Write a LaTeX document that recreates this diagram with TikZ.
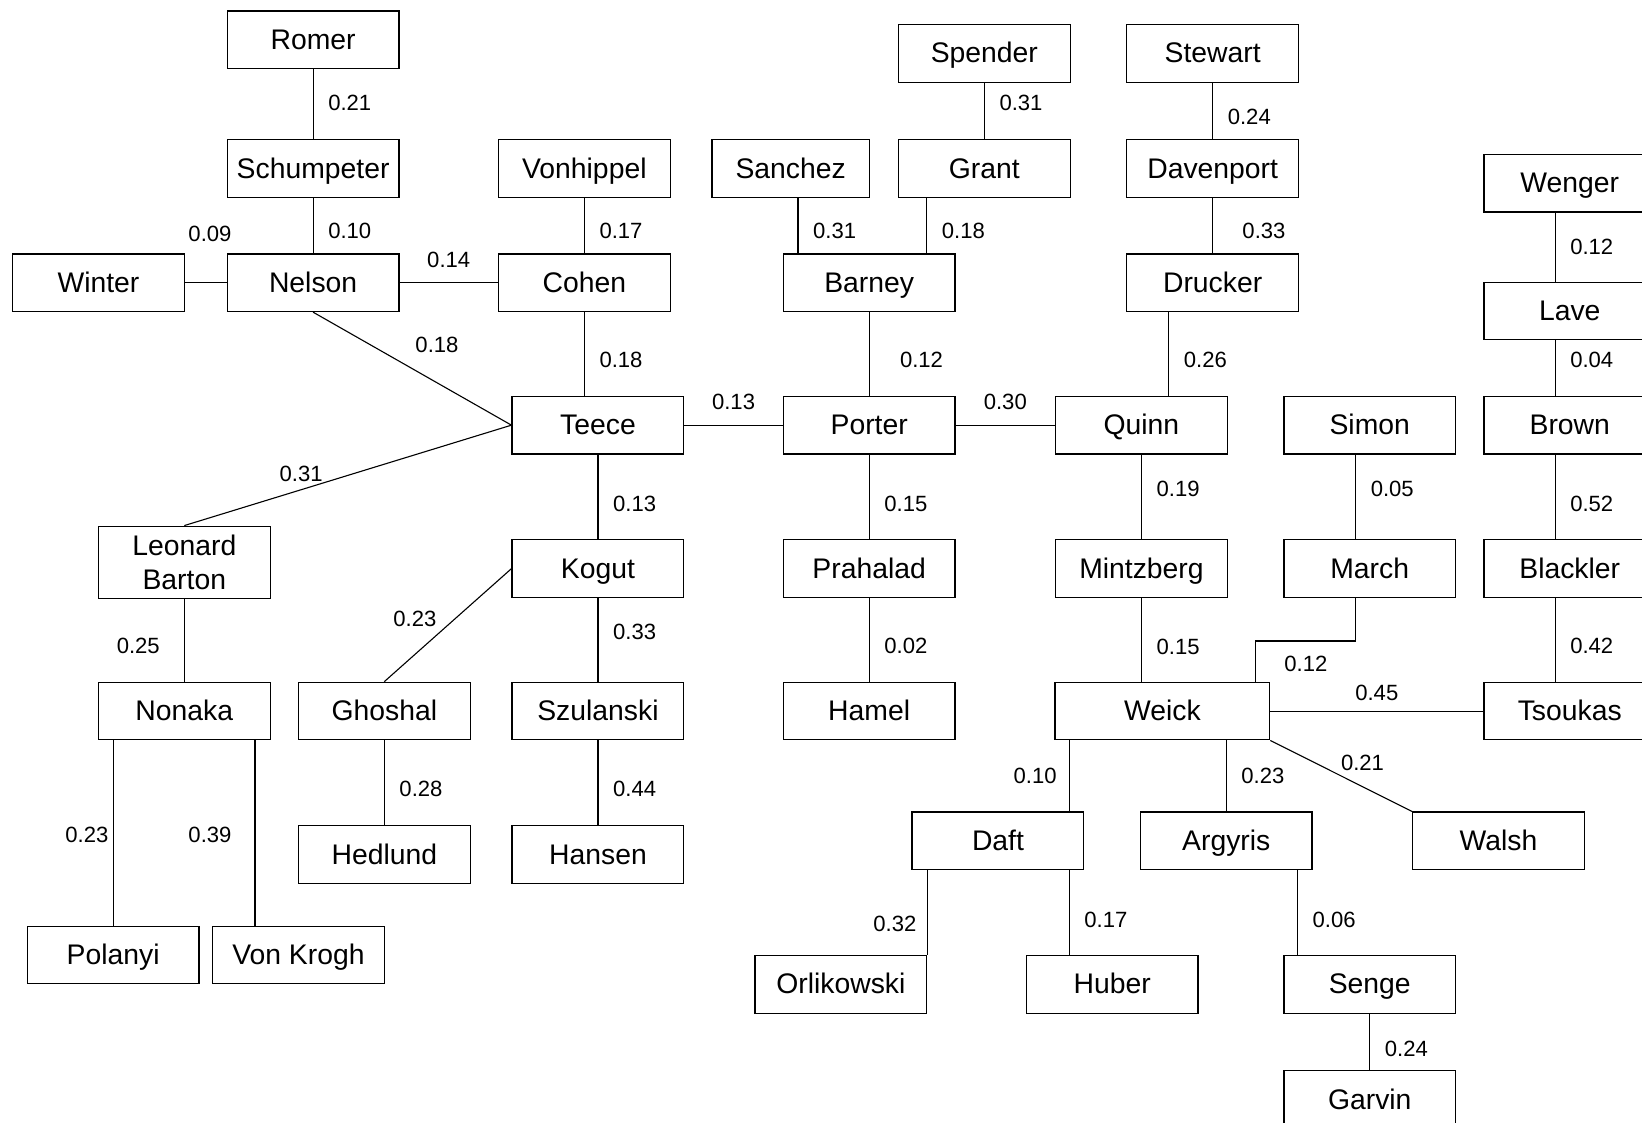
\documentclass[tikz,border=0pt]{standalone}
\usepackage{fontspec}
\setmainfont{Liberation Sans}
\usetikzlibrary{positioning,calc}
\newcommand\boxfont{\fontsize{15.4}{18.5}\selectfont}
\newcommand\wgtfont{\fontsize{12}{14}\selectfont}
\tikzset{
  author/.style={draw,line width=0.7pt,rectangle,minimum width=3.28cm,minimum height=1.1cm,inner sep=0pt,font=\boxfont},
  person/.style={author,text height=11pt,text depth=0.6pt},
  link/.style={line width=0.6pt},
  wt/.style={font=\wgtfont,inner sep=0pt},
  wtr/.style={wt,xshift=0.7cm}
}
\begin{document}
\begin{tikzpicture}[x=0.02cm,y=-0.02cm]
  \useasboundingbox (0,0) rectangle (1568,1072);
  \clip (0,0) rectangle (1568,1072);
  \fill[white] (0,0) rectangle (1568,1072);
  % left cluster
  \node[person] (Romer) at (299,38) {Romer};
  \node[person] (Schumpeter) at (299,161) {Schumpeter};
  \node[person] (Nelson) at (299,270) {Nelson};
  \node[person] (Winter) at (94,270) {Winter};
  \node[person] (Vonhippel) at (558,161) {Vonhippel};
  \node[person] (Cohen) at (558,270) {Cohen};
  \node[person] (Teece) at (571,406) {Teece};
  \node[author,minimum height=1.38cm,align=center] (LeonardBarton) at (176,537) {Leonard\\Barton};
  \node[person] (Nonaka) at (176,679) {Nonaka};
  \node[person] (Polanyi) at (108,912) {Polanyi};
  \node[person] (VonKrogh) at (285,912) {Von Krogh};
  \node[person] (Kogut) at (571,543) {Kogut};
  \node[person] (Ghoshal) at (367,679) {Ghoshal};
  \node[person] (Szulanski) at (571,679) {Szulanski};
  \node[person] (Hedlund) at (367,816) {Hedlund};
  \node[person] (Hansen) at (571,816) {Hansen};
  % middle cluster
  \node[person,minimum width=3.0cm] (Sanchez) at (755,161) {Sanchez};
  \node[person] (Grant) at (940,161) {Grant};
  \node[person] (Spender) at (940,51) {Spender};
  \node[person] (Barney) at (830,270) {Barney};
  \node[person] (Porter) at (830,406) {Porter};
  \node[person] (Prahalad) at (830,543) {Prahalad};
  \node[person] (Hamel) at (830,679) {Hamel};
  \node[person] (Stewart) at (1158,51) {Stewart};
  \node[person] (Davenport) at (1158,161) {Davenport};
  \node[person] (Drucker) at (1158,270) {Drucker};
  \node[person] (Quinn) at (1090,406) {Quinn};
  \node[person] (Mintzberg) at (1090,543) {Mintzberg};
  \node[person,minimum width=4.1cm] (Weick) at (1110,679) {Weick};
  \node[person] (Simon) at (1308,406) {Simon};
  \node[person] (March) at (1308,543) {March};
  % right column
  \node[person] (Wenger) at (1499,175) {Wenger};
  \node[person] (Lave) at (1499,297) {Lave};
  \node[person] (Brown) at (1499,406) {Brown};
  \node[person] (Blackler) at (1499,543) {Blackler};
  \node[person] (Tsoukas) at (1499,679) {Tsoukas};
  % below Weick
  \node[person] (Daft) at (953,803) {Daft};
  \node[person] (Argyris) at (1171,803) {Argyris};
  \node[person] (Walsh) at (1431,803) {Walsh};
  \node[person] (Orlikowski) at (803,940) {Orlikowski};
  \node[person] (Huber) at (1062,940) {Huber};
  \node[person] (Senge) at (1308,940) {Senge};
  \node[person] (Garvin) at (1308,1050) {Garvin};

  % links, left
  \draw[link] (Romer) -- node[wtr,pos=0.48]{0.21} (Schumpeter);
  \draw[link] (Schumpeter) -- node[wtr,pos=0.6]{0.10} (Nelson);
  \draw[link] (Winter) -- node[wt,above=0.77cm,xshift=0.08cm]{0.09} (Nelson);
  \draw[link] (Nelson) -- node[wt,above=0.27cm]{0.14} (Cohen);
  \draw[link] (Vonhippel) -- node[wtr,pos=0.6]{0.17} (Cohen);
  \draw[link] (Cohen) -- node[wtr,pos=0.57]{0.18} (Cohen |- Teece.north);
  \draw[link] (Nelson.south) -- node[wt,pos=0.54,xshift=0.32cm,yshift=0.54cm]{0.18} (Teece.west);
  \draw[link] (Teece.west) -- node[wt,pos=0.63,xshift=-0.08cm,yshift=0.28cm]{0.31} (LeonardBarton.north);
  \draw[link] (LeonardBarton) -- node[wt,pos=0.57,xshift=-0.88cm]{0.25} (Nonaka);
  \draw[link] (Nonaka.south -| Polanyi.north) -- node[wt,pos=0.51,xshift=-0.5cm]{0.23} (Polanyi.north);
  \draw[link] ([xshift=-0.83cm]VonKrogh.north |- Nonaka.south) -- node[wt,pos=0.51,xshift=-0.86cm]{0.39} ([xshift=-0.83cm]VonKrogh.north);
  \draw[link] (Teece) -- node[wtr,pos=0.58]{0.13} (Kogut);
  \draw[link] (Teece) -- node[wt,above=0.29cm]{0.13} (Porter);
  \draw[link] (Kogut.west) -- node[wt,pos=0.62,xshift=-0.34cm,yshift=0.38cm]{0.23} (Ghoshal.north);
  \draw[link] (Kogut) -- node[wtr,pos=0.4]{0.33} (Szulanski);
  \draw[link] (Szulanski) -- node[wtr,pos=0.57]{0.44} (Hansen);
  \draw[link] (Ghoshal) -- node[wtr,pos=0.57]{0.28} (Hedlund);
  % links, middle
  \draw[link] (Spender) -- node[wtr,pos=0.35]{0.31} (Grant);
  \draw[link] ([xshift=0.14cm]Sanchez.south) -- node[wtr,pos=0.6]{0.31} ([xshift=0.14cm]Sanchez.south |- Barney.north);
  \draw[link] ([xshift=-1.1cm]Grant.south) -- node[wtr,pos=0.6]{0.18} ([xshift=-1.1cm]Grant.south |- Barney.north);
  \draw[link] (Barney) -- node[wt,pos=0.57,xshift=1.0cm]{0.12} (Porter);
  \draw[link] (Porter) -- node[wt,above=0.29cm]{0.30} (Quinn);
  \draw[link] (Porter) -- node[wtr,pos=0.58]{0.15} (Prahalad);
  \draw[link] (Prahalad) -- node[wtr,pos=0.57]{0.02} (Hamel);
  \draw[link] (Stewart) -- node[wtr,pos=0.6]{0.24} (Davenport);
  \draw[link] (Davenport) -- node[wt,pos=0.6,xshift=0.98cm]{0.33} (Drucker);
  \draw[link] ([xshift=-0.84cm]Drucker.south) -- node[wtr,pos=0.57]{0.26} ([xshift=-0.84cm]Drucker.south |- Quinn.north);
  \draw[link] (Quinn) -- node[wtr,pos=0.41]{0.19} (Mintzberg);
  \draw[link] (Mintzberg) -- node[wtr,pos=0.58]{0.15} (Mintzberg |- Weick.north);
  \draw[link] ([xshift=-0.27cm]Simon.south) -- node[wtr,pos=0.41]{0.05} ([xshift=-0.27cm]March.north);
  \draw[link] ([xshift=-0.27cm]March.south) -- ++(0,41) -| node[wt,pos=0.5,xshift=0.96cm,yshift=-0.43cm]{0.12} ([xshift=1.78cm]Weick.north);
  % links, right
  \draw[link] ([xshift=-0.28cm]Wenger.south) -- node[wtr,pos=0.49]{0.12} ([xshift=-0.28cm]Lave.north);
  \draw[link] ([xshift=-0.28cm]Lave.south) -- node[wtr,pos=0.36]{0.04} ([xshift=-0.28cm]Brown.north);
  \draw[link] ([xshift=-0.28cm]Brown.south) -- node[wtr,pos=0.58]{0.52} ([xshift=-0.28cm]Blackler.north);
  \draw[link] ([xshift=-0.28cm]Blackler.south) -- node[wtr,pos=0.57]{0.42} ([xshift=-0.28cm]Tsoukas.north);
  \draw[link] (Weick) -- node[wt,above=0.19cm]{0.45} (Tsoukas);
  \draw[link] (Weick.south east) -- node[wt,pos=0.58,xshift=0.19cm,yshift=0.35cm]{0.21} (Walsh.north west);
  % links, below Weick
  \draw[link] ([xshift=-1.77cm]Weick.south) -- node[wt,pos=0.5,xshift=-0.66cm]{0.10} ([xshift=-1.77cm]Weick.south |- Daft.north);
  \draw[link] (Weick.south -| Argyris.north) -- node[wtr,pos=0.5]{0.23} (Argyris.north);
  \draw[link] (Orlikowski.north east |- Daft.south) -- node[wt,pos=0.63,xshift=-0.62cm]{0.32} (Orlikowski.north east);
  \draw[link] ([xshift=1.36cm]Daft.south) -- node[wtr,pos=0.59]{0.17} ([xshift=1.36cm]Daft.south |- Huber.north);
  \draw[link] ([xshift=1.36cm]Argyris.south) -- node[wtr,pos=0.59]{0.06} ([xshift=1.36cm]Argyris.south |- Senge.north);
  \draw[link] (Senge) -- node[wtr,pos=0.62]{0.24} (Garvin);
\end{tikzpicture}
\end{document}
